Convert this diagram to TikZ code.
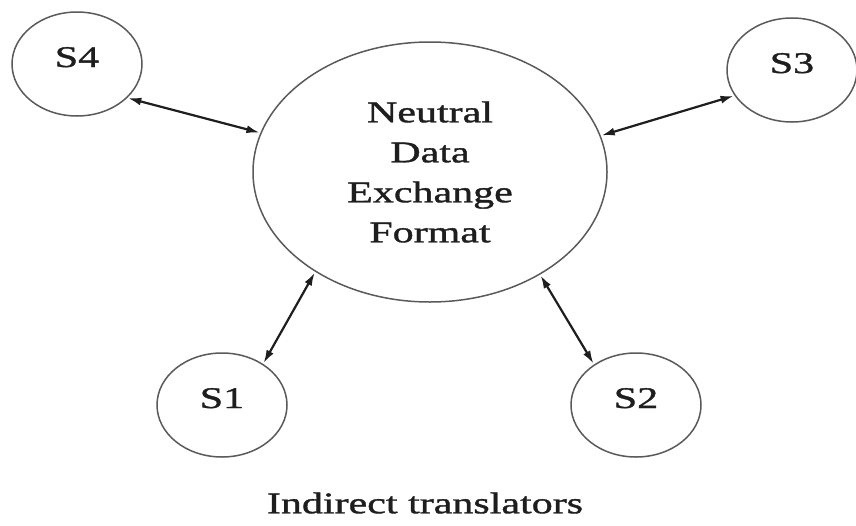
\documentclass[tikz,border=0pt]{standalone}
\usepackage{fontspec}
\setmainfont[FakeStretch=1.4,FakeBold=1.2]{Liberation Serif}
\usetikzlibrary{shapes.geometric,arrows.meta}
\definecolor{rim}{HTML}{5A5A5A}
\definecolor{ink}{HTML}{1E1E1E}
\tikzset{
  sys/.style={ellipse, draw=rim, line width=1.5pt, minimum width=130pt,
              minimum height=104pt, inner sep=0pt, text=ink,
              text height=10pt, text depth=4pt,
              font=\fontsize{30}{40}\selectfont},
  hub/.style={ellipse, draw=rim, line width=1.5pt, minimum width=354pt,
              minimum height=260pt, inner sep=0pt, align=center, text=ink,
              font=\fontsize{30}{40}\selectfont},
  link/.style={{Latex[length=13pt,width=8pt]}-{Latex[length=13pt,width=8pt]},
               draw=ink, line width=2.2pt, shorten <=1pt, shorten >=1pt},
  caption/.style={text=ink, font=\fontsize{30}{40}\selectfont}
}
\begin{document}
\begin{tikzpicture}[x=1pt,y=-1pt]
  \useasboundingbox[fill=white] (0,0) rectangle (856,525);

  % central exchange format
  \node[hub] (ndx) at (430,172) {Neutral\\Data\\Exchange\\Format};

  % the four systems
  \node[sys] (s4) at (77,64)   {S4};
  \node[sys] (s3) at (792,70)  {S3};
  \node[sys] (s1) at (222,405) {S1};
  \node[sys] (s2) at (636,405) {S2};

  % two-way translators
  \draw[link] (s4.-34.5)  -- (ndx.167.5);
  \draw[link] (s3.204.2)  -- (ndx.12.5);
  \draw[link] (s1.45.7)   -- (ndx.221.8);
  \draw[link] (s2.136.3)  -- (ndx.-43.9);

  \node[caption] (cap) at (425,503) {Indirect translators};
\end{tikzpicture}
\end{document}
